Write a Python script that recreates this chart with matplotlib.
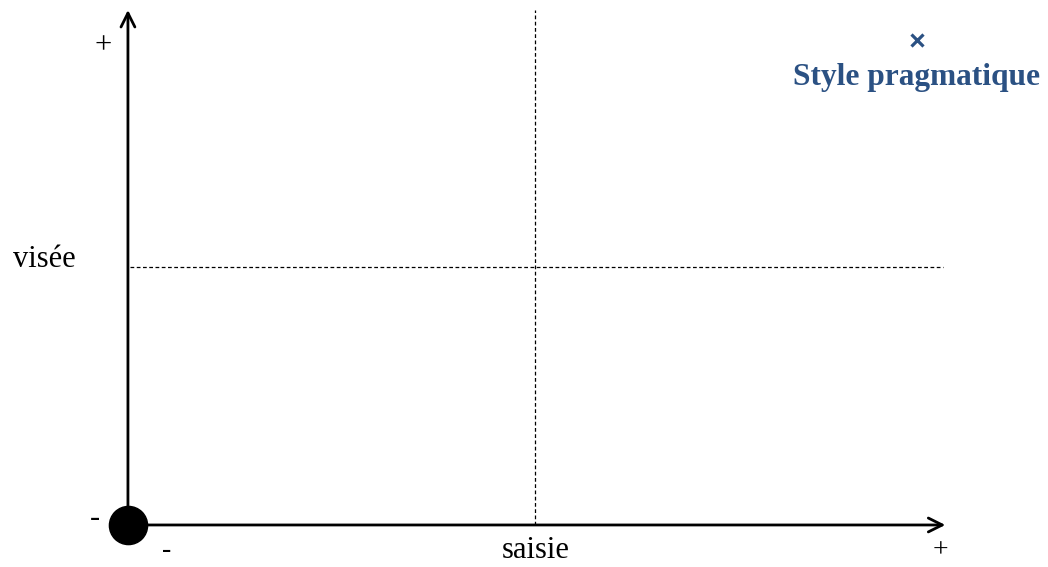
import matplotlib.pyplot as plt

# axis names and end labels
x_name = "saisie"
y_name = "visée"
low_label = "-"
high_label = "+"

# the one placed style (saisie, visée), plus the quadrant split
style_names = ["Style pragmatique"]
style_x = [0.968]
style_y = [0.942]
split_x = 0.5
split_y = 0.5

blue = "#2b5183"
plt.rcParams['font.family'] = ['Liberation Serif', 'DejaVu Serif']

fig = plt.figure(figsize=(10.48, 5.67), dpi=100)
ax = fig.add_axes([0, 0, 1, 1])
ax.set_xlim(-0.157, 1.129)
ax.set_ylim(-0.0816, 1.0194)
ax.axis('off')

# main axes with open arrow heads
arrow = dict(arrowstyle='->,head_length=1.0,head_width=0.5', lw=2, color='black',
             shrinkA=0, shrinkB=0)
ax.annotate('', xy=(1.003, 0), xytext=(0, 0), arrowprops=arrow)
ax.annotate('', xy=(0, 1.0), xytext=(0, 0), arrowprops=arrow)

# dashed quadrant lines
ax.plot([split_x, split_x], [0, 1.0], color='black', lw=0.9, dashes=(3, 2))
ax.plot([0.003, 1.0], [split_y, split_y], color='black', lw=0.9, dashes=(3, 2))

# origin dot
ax.plot([0], [0], 'o', color='black', markersize=27.5, zorder=5)

# labels
fs = 22
ax.text(-0.03, 0.93, high_label, ha='center', va='center', fontsize=fs)
ax.text(-0.064, 0.515, y_name, ha='right', va='center', fontsize=fs)
ax.text(-0.04, 0.012, low_label, ha='center', va='center', fontsize=fs)
ax.text(0.048, -0.05, low_label, ha='center', va='center', fontsize=20)
ax.text(split_x, -0.05, x_name, ha='center', va='center', fontsize=fs)
ax.text(0.997, -0.05, high_label, ha='center', va='center', fontsize=20)

# placed style
for name, sx, sy in zip(style_names, style_x, style_y):
    ax.plot([sx], [sy], 'x', color=blue, markersize=9, mew=2.3)
    ax.text(sx, sy - 0.074, name, ha='center', va='center', fontsize=22.6,
            fontweight='bold', color=blue)

fig.savefig('out.png', dpi=100)
